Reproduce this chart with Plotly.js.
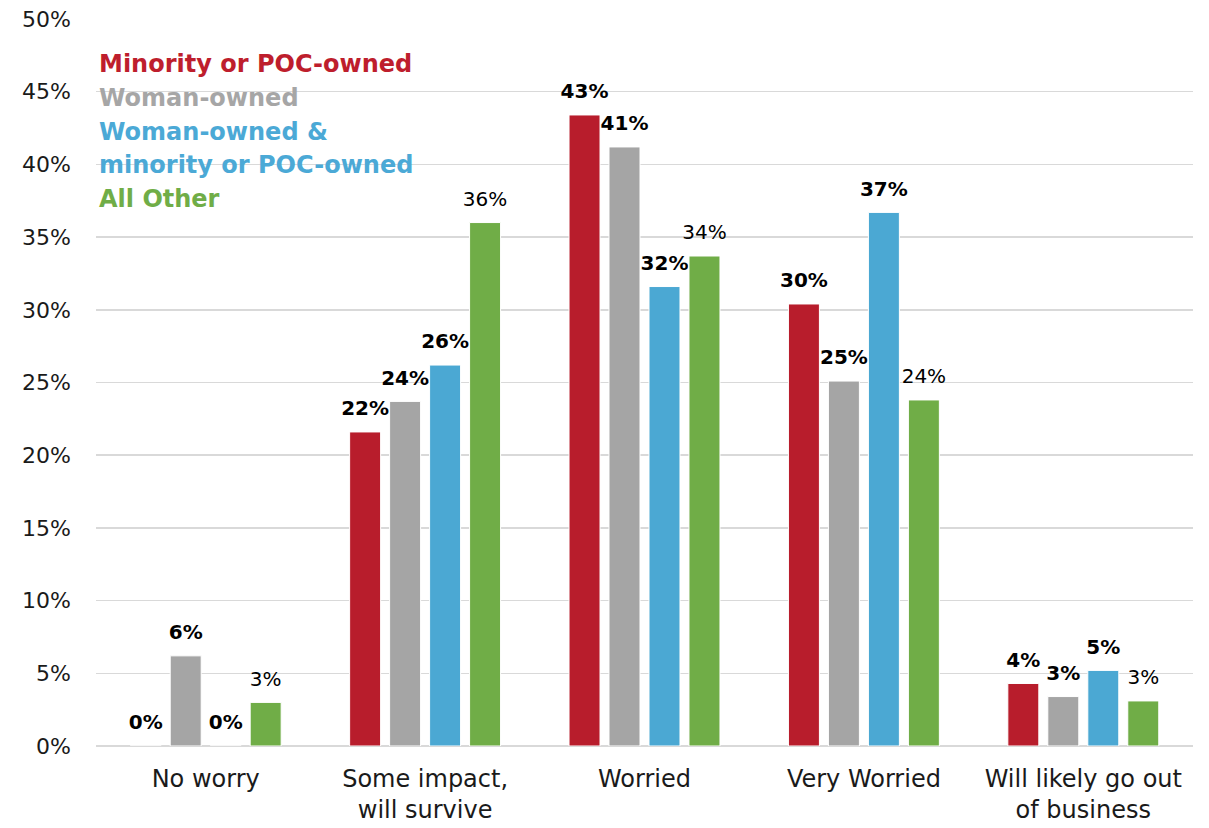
<!DOCTYPE html>
<html>
<head>
<meta charset="utf-8">
<script src="https://cdn.plot.ly/plotly-3.0.1.min.js"></script>
<style>html,body{margin:0;padding:0;background:#fff;}#chart{width:1209px;height:828px;}</style>
</head>
<body>
<div id="chart"></div>
<script>
var categories = ["No worry", "Some impact,<br>will survive", "Worried", "Very Worried", "Will likely go out<br>of business"];
var seriesNames = ["Minority or POC-owned", "Woman-owned", "Woman-owned & minority or POC-owned", "All Other"];
var legendLines = [["Minority or POC-owned"], ["Woman-owned"], ["Woman-owned &", "minority or POC-owned"], ["All Other"]];
var minorityPOC = [0, 21.6, 43.4, 30.4, 4.3];
var womanOwned = [6.2, 23.7, 41.2, 25.1, 3.4];
var womanMinority = [0, 26.2, 31.6, 36.7, 5.2];
var allOther = [3.0, 36.0, 33.7, 23.8, 3.1];
var yTickVals = [0, 5, 10, 15, 20, 25, 30, 35, 40, 45, 50];
var yTickText = ["0%", "5%", "10%", "15%", "20%", "25%", "30%", "35%", "40%", "45%", "50%"];

var FONT = "'DejaVu Sans', sans-serif";
var barColors = ["#B81D2C", "#A5A5A5", "#4BA8D3", "#70AD47"];
var legendColors = ["#BE1E2D", "#A6A6A6", "#4BA9D6", "#70AD47"];
var boldLabels = [true, true, true, false];
var seriesData = [minorityPOC, womanOwned, womanMinority, allOther];

var traces = seriesData.map(function (vals, i) {
  var inner = boldLabels[i] ? '<b>%{y:.0f}%</b>' : '%{y:.0f}%';
  return {
    type: 'bar',
    name: seriesNames[i],
    x: categories,
    y: vals,
    marker: {color: barColors[i], line: {color: '#ffffff', width: 1}},
    texttemplate: '<span style="font-size:20px">' + inner + '</span><br><span style="color:rgba(0,0,0,0)">.</span>',
    textposition: 'outside',
    constraintext: 'none',
    cliponaxis: false,
    textfont: {family: FONT, size: 9, color: '#000000'},
    hoverinfo: 'skip'
  };
});

// legend drawn as coloured text lines (no symbols), one annotation per line
var legendAnnotations = [];
var lineY = [0.938, 0.891, 0.8446, 0.799, 0.752];
var k = 0;
legendLines.forEach(function (lines, i) {
  lines.forEach(function (ln) {
    legendAnnotations.push({
      xref: 'paper', yref: 'paper',
      x: 0.001, y: lineY[k++],
      xanchor: 'left', yanchor: 'middle',
      align: 'left',
      showarrow: false,
      text: '<b>' + ln.replace('&', '&amp;') + '</b>',
      font: {family: FONT, size: 24, color: legendColors[i]}
    });
  });
});

var layout = {
  width: 1209,
  height: 828,
  margin: {l: 96, r: 16, t: 19, b: 82},
  paper_bgcolor: '#ffffff',
  plot_bgcolor: '#ffffff',
  barmode: 'group',
  bargap: 0.271,
  bargroupgap: 0.225,
  showlegend: false,
  font: {family: FONT, color: '#000000'},
  xaxis: {
    type: 'category',
    tickfont: {family: FONT, size: 24, color: '#1a1a1a'},
    showgrid: false,
    showline: false,
    zeroline: false,
    ticks: '',
    ticklabelstandoff: 16
  },
  yaxis: {
    range: [0, 50],
    tickvals: yTickVals,
    ticktext: yTickText,
    tickfont: {family: FONT, size: 22, color: '#1a1a1a'},
    showgrid: true,
    gridcolor: '#D9D9D9',
    gridwidth: 1.5,
    zeroline: true,
    zerolinecolor: '#D9D9D9',
    zerolinewidth: 2,
    showline: false,
    ticks: '',
    ticklabelstandoff: 24,
    fixedrange: true
  },
  annotations: legendAnnotations
};

Plotly.newPlot('chart', traces, layout, {displayModeBar: false, staticPlot: true});
</script>
</body>
</html>
